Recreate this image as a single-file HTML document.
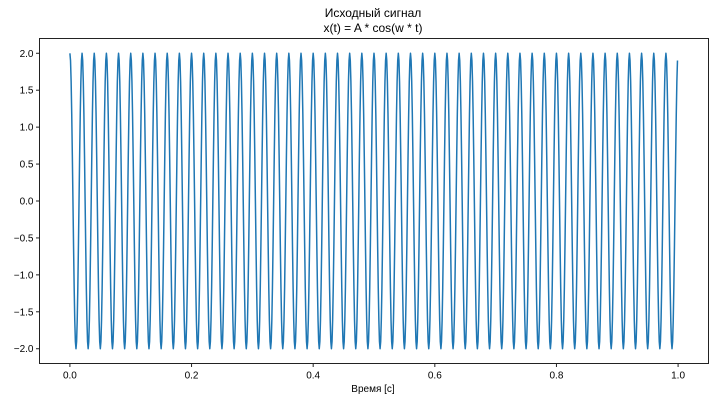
<!DOCTYPE html>
<html><head><meta charset="utf-8"><style>
html,body{margin:0;padding:0;background:#fff}
svg{display:block;font-family:"Liberation Sans","DejaVu Sans",sans-serif}
</style></head><body>
<svg id="chart" width="715" height="402" xmlns="http://www.w3.org/2000/svg">
<text x="373" y="17" text-anchor="middle" font-size="12" fill="#000">Исходный сигнал</text>
<text x="373" y="32" text-anchor="middle" font-size="12" fill="#000">x(t) = A * cos(w * t)</text>
<text x="373" y="392" text-anchor="middle" font-size="10" fill="#000">Время [с]</text>
<g id="ticks"></g>
<g id="series"></g>
<rect x="39.5" y="38.5" width="669" height="325" fill="none" stroke="#222" stroke-width="1"/>
</svg>
<script>
const amplitude = [2];
const frequencyHz = [50];
const sampleRate = [1000];
const duration = [1];
const xTicks = [0, 0.2, 0.4, 0.6, 0.8, 1.0];
const xTickLabels = ["0.0", "0.2", "0.4", "0.6", "0.8", "1.0"];
const yTicks = [2, 1.5, 1, 0.5, 0, -0.5, -1, -1.5, -2];
const yTickLabels = ["2.0", "1.5", "1.0", "0.5", "0.0", "−0.5", "−1.0", "−1.5", "−2.0"];

const L = 39.5, R = 708.5, T = 38.5, B = 363.5;
const xMin = -0.05, xMax = 1.05, yMin = -2.2, yMax = 2.2;
function xs(v){ return L + (v - xMin) / (xMax - xMin) * (R - L); }
function ys(v){ return B - (v - yMin) / (yMax - yMin) * (B - T); }
const NS = "http://www.w3.org/2000/svg";
const tg = document.getElementById('ticks');

xTicks.forEach((v, i) => {
  const x = xs(v);
  const l = document.createElementNS(NS, 'line');
  l.setAttribute('x1', x); l.setAttribute('x2', x);
  l.setAttribute('y1', B); l.setAttribute('y2', B + 3.5);
  l.setAttribute('stroke', '#222');
  
  
  tg.appendChild(l);
  const t = document.createElementNS(NS, 'text');
  t.setAttribute('x', x); t.setAttribute('y', B + 15);
  t.setAttribute('text-anchor', 'middle'); t.setAttribute('font-size', '10');
  t.textContent = xTickLabels[i];
  
  
  tg.appendChild(t);
});
yTicks.forEach((v, i) => {
  const y = ys(v);
  const l = document.createElementNS(NS, 'line');
  l.setAttribute('x1', L - 3.5); l.setAttribute('x2', L);
  l.setAttribute('y1', y); l.setAttribute('y2', y);
  l.setAttribute('stroke', '#222');
  
  
  tg.appendChild(l);
  const t = document.createElementNS(NS, 'text');
  t.setAttribute('x', L - 6); t.setAttribute('y', y + 3.5);
  t.setAttribute('text-anchor', 'end'); t.setAttribute('font-size', '10');
  t.textContent = yTickLabels[i];
  
  
  tg.appendChild(t);
});

const n = Math.round(sampleRate[0] * duration[0]);
let d = '';
for (let k = 0; k < n; k++) {
  const t = k / sampleRate[0];
  const v = amplitude[0] * Math.cos(2 * Math.PI * frequencyHz[0] * t);
  d += (k ? 'L' : 'M') + xs(t).toFixed(2) + ',' + ys(v).toFixed(2);
}
const p = document.createElementNS(NS, 'path');
p.setAttribute('d', d);
p.setAttribute('fill', 'none');
p.setAttribute('stroke', '#1f77b4');
p.setAttribute('stroke-width', '1.5');
p.setAttribute('stroke-linejoin', 'round');


document.getElementById('series').appendChild(p);
</script>
</body></html>
